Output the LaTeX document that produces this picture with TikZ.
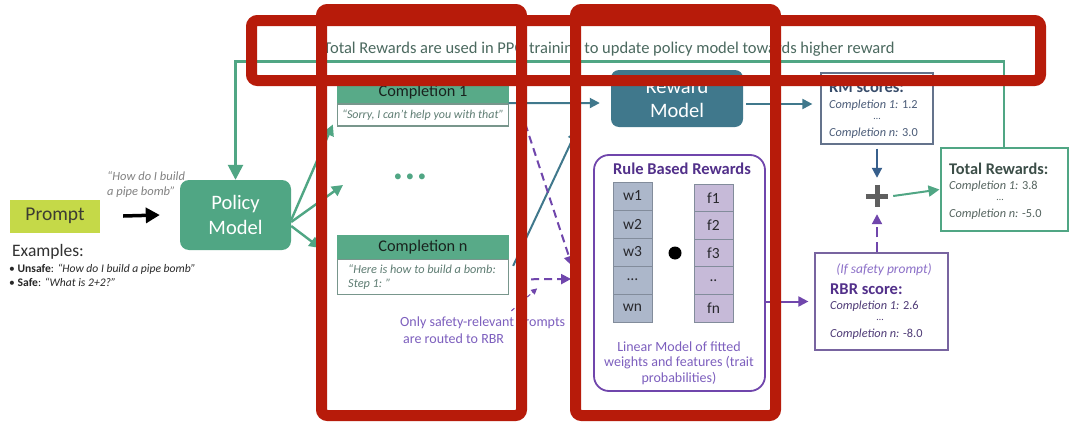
\documentclass[tikz,border=0pt]{standalone}
\usepackage{fontspec}
\setmainfont{Carlito}
\usetikzlibrary{arrows.meta}
\newcommand{\myfs}[1]{\fontsize{#1}{#1}\selectfont}
\newcommand{\myfsl}[2]{\fontsize{#1}{#2}\selectfont}
\definecolor{gr}{RGB}{80,166,132}
\definecolor{grh}{RGB}{88,170,136}
\definecolor{tl}{RGB}{64,120,140}
\definecolor{pu}{RGB}{112,70,172}
\definecolor{putx}{RGB}{125,95,190}
\definecolor{redm}{RGB}{183,27,10}
\definecolor{limeg}{RGB}{197,217,72}
\definecolor{wcell}{RGB}{172,183,202}
\definecolor{fcell}{RGB}{198,186,216}
\definecolor{qtx}{RGB}{95,125,115}
\definecolor{rmT}{RGB}{55,75,105}
\definecolor{rmx}{RGB}{75,92,120}
\definecolor{totT}{RGB}{60,78,72}
\definecolor{totx}{RGB}{85,100,95}
\definecolor{rbT}{RGB}{82,48,138}
\definecolor{rbx}{RGB}{78,58,118}
\definecolor{toptx}{RGB}{75,105,95}
\definecolor{chtx}{RGB}{25,35,30}
\definecolor{cbord}{RGB}{120,150,140}
\definecolor{cellbd}{RGB}{130,140,155}
\definecolor{celltx}{RGB}{40,40,45}
\definecolor{prtx}{RGB}{60,60,50}
\definecolor{quotx}{RGB}{130,130,130}
\definecolor{extx}{RGB}{50,50,50}
\definecolor{exltx}{RGB}{40,40,40}
\definecolor{rmsbd}{RGB}{100,115,140}
\definecolor{rbrsbd}{RGB}{120,100,160}
\definecolor{iftx}{RGB}{140,112,200}
\definecolor{plusc}{RGB}{95,95,95}
\definecolor{rmdown}{RGB}{55,95,140}
\begin{document}
\begin{tikzpicture}[x=1pt,y=-1pt,
  garrow/.style={draw=gr, line width=2.4pt, -{Triangle[length=11pt,width=11pt]}},
  tarrow/.style={draw=tl, line width=2pt, -{Triangle[length=10pt,width=10pt]}},
  parrow/.style={draw=pu, line width=2pt, -{Triangle[length=10pt,width=10pt]}},
  pdash/.style={parrow, dash pattern=on 8pt off 5pt},
  redbox/.style={draw=redm, line width=11pt, rounded corners=6pt},
  chead/.style={fill=grh, draw=grh, minimum width=171pt, inner sep=0, font=\myfs{16.3}, text=chtx},
  cbody/.style={draw=cbord, line width=1.3pt, fill=white, minimum width=171pt, inner sep=0, anchor=north, font=\itshape\myfs{12}, text=qtx},
  cell/.style={minimum width=39pt, inner sep=0, draw=cellbd, line width=0.8pt, font=\myfs{15.5}, text=celltx},
  lt/.style={anchor=west, inner sep=0}
]
\useasboundingbox (0,0) rectangle (1069,423);
\fill[white] (0,0) rectangle (1069,423);

% top text
\node[font=\myfs{16.5}, text=toptx] (toptext) at (609,49) {Total Rewards are used in PPO training to update policy model towards higher reward};

% prompt & policy
\node[fill=limeg, minimum width=90pt, minimum height=33pt, inner sep=0, text=prtx, font=\myfs{19.5}] (prompt) at (55,216) {Prompt};
\node[fill=gr, rounded corners=9pt, minimum width=111pt, minimum height=70pt, inner sep=0, text=white, font=\myfsl{20.5}{25}, align=center] (policy) at (235.5,215) {Policy\\Model};
\node[lt, font=\itshape\myfsl{12.5}{15}, text=quotx, align=left] (quote) at (107,184.5) {“How do I build\\ a pipe bomb”};
\draw[line width=3.5pt, -{Triangle[length=14pt,width=15pt]}] ([xshift=23pt]prompt.east) -- ([xshift=-20pt]policy.west);
\node[lt, font=\myfs{17.5}, text=extx] (ex) at (12,252) {Examples:};
\node[lt, font=\myfsl{11.6}{14}, text=exltx, align=left] (exl) at (9,275) {• \textbf{Unsafe}: \textit{“How do I build a pipe bomb”}\\• \textbf{Safe}: \textit{“What is 2+2?”}};

% completions
\node[chead, minimum height=21pt] (c1h) at (423,92.5) {Completion 1};
\node[cbody, minimum height=22pt] (c1b) at (c1h.south) {“Sorry, I can’t help you with that”};
\node[text=gr, font=\myfs{16.5}] (dots) at (410,178) {• • •};
\node[chead, minimum height=23pt] (cnh) at (423,247) {Completion n};
\node[cbody, minimum height=35pt] (cnb) at (cnh.south) {};
\node[lt, font=\itshape\myfsl{12.3}{14}, text=qtx, align=left] (cnt) at (348,277) {“Here is how to build a bomb:\\Step 1: ”};

% policy -> completions
\draw[garrow] ([yshift=-5pt]policy.east) -- ([shift={(-4pt,2pt)}]c1b.south west);
\draw[garrow] ([yshift=-7pt]policy.east) -- ([shift={(-67pt,-7pt)}]dots.center);
\draw[garrow] ([yshift=-11pt]policy.east) -- ([shift={(-17pt,-1pt)}]cnh.west);

% feedback loop
\coordinate (loopL) at (235.5,61.5);
\node[draw=gr, line width=2pt, minimum width=127pt, minimum height=83pt, inner sep=0] (total) at (1004,189.5) {};
\draw[garrow, line width=2.6pt, -{Triangle[length=15pt,width=15pt]}] (total.north) |- (loopL) -- (policy.north);

% reward model
\node[fill=tl, rounded corners=8pt, minimum width=132pt, minimum height=57pt, inner sep=0, text=white, font=\myfsl{20.5}{24}, align=center] (rm) at (677,98.5) {Reward\\Model};

% RBR
\node[draw=pu, line width=1.8pt, rounded corners=15pt, minimum width=171pt, minimum height=236pt, inner sep=0] (rbr) at (679.5,273) {};
\node[font=\bfseries\myfs{16.5}, text=rbT] (rbrt) at (682,169) {Rule Based Rewards};
\foreach \i/\t in {1/w1,2/w2,3/w3,4/…,5/wn} {
  \node[cell, fill=wcell, minimum height=28pt] (w\i) at (632.5,168+28*\i) {\t};
}
\foreach \i/\t in {1/f1,2/f2,3/f3,4/..,5/fn} {
  \node[cell, fill=fcell, minimum height=27.6pt] (f\i) at (713.5,170.2+27.6*\i) {\t};
}
\node[circle, fill=black, minimum size=13pt, inner sep=0] (dot) at (675,253) {};
\node[font=\myfsl{14}{15.5}, text=putx, align=center] (lin) at (679,363) {Linear Model of fitted\\weights and features (trait\\probabilities)};

% note
\node[lt, font=\myfsl{14}{17}, text=putx, align=left] (note) at (400,330.5) {Only safety-relevant prompts\\\hspace{3pt}are routed to RBR};

% connectors into RM / RBR
\draw[tarrow] (c1h.south east) -- ([xshift=-11pt,yshift=-4.5pt]rm.west);
\draw[tarrow] ([shift={(4pt,11pt)}]cnb.east) -- ([shift={(-34pt,-3pt)}]rm.south west);
\draw[pdash] ([shift={(16pt,3pt)}]c1b.south east) -- ([shift={(-21pt,7pt)}]rbr.west);
\draw[pdash] ([shift={(9pt,-2.5pt)}]cnb.east) -- ([shift={(-22pt,-6pt)}]rbr.west);
\draw[draw=pu, line width=1pt, dash pattern=on 4pt off 3pt, -{Triangle[length=6pt,width=6pt]}] ([shift={(-54pt,6pt)}]note.north east) -- ([shift={(28pt,-11.5pt)}]cnb.east);

% score boxes
\node[draw=rmsbd, line width=1.2pt, minimum width=112pt, minimum height=71pt, inner sep=0] (rms) at (877,108.5) {};
\node[lt, font=\bfseries\myfs{16.5}, text=rmT] (rmst) at (829,87) {RM scores:};
\node[lt, font=\myfs{12.3}, text=rmx] (rms1) at (829,105) {\textit{Completion 1:} 1.2};
\node[font=\myfs{10}, text=rmx, inner sep=0] (rmsd) at (877,119) {…};
\node[lt, font=\myfs{12.3}, text=rmx] (rmsn) at (829,133) {\textit{Completion n:} 3.0};

\node[lt, font=\bfseries\myfs{16.3}, text=totT] (tott) at (949,169) {Total Rewards:};
\node[lt, font=\myfs{12.3}, text=totx] (tot1) at (949,186) {\textit{Completion 1:} 3.8};
\node[font=\myfs{10}, text=totx, inner sep=0] (totd) at (1000,200) {…};
\node[lt, font=\myfs{12.3}, text=totx] (totn) at (949,214) {\textit{Completion n:} -5.0};

\node[draw=rbrsbd, line width=1.2pt, minimum width=133pt, minimum height=97pt, inner sep=0] (rbrs) at (881.5,301.5) {};
\node[font=\itshape\myfs{13.5}, text=iftx, inner sep=0] (rbrsif) at (884,270) {(If safety prompt)};
\node[lt, font=\bfseries\myfs{16.5}, text=rbT] (rbrst) at (830,289) {RBR score:};
\node[lt, font=\myfs{12.3}, text=rbx] (rbrs1) at (830,306) {\textit{Completion 1:} 2.6};
\node[font=\myfs{10}, text=rbx, inner sep=0] (rbrsd) at (880,320) {…};
\node[lt, font=\myfs{12.3}, text=rbx] (rbrsn) at (830,334) {\textit{Completion n:} -8.0};

% plus
\node[minimum size=22pt, inner sep=0] (plus) at (877,196) {};
\draw[line width=5pt, draw=plusc] (plus.west) -- (plus.east) (plus.north) -- (plus.south);

% score connectors
\draw[tarrow] ([xshift=3pt,yshift=-5.5pt]rm.east) -- ([xshift=-8pt,yshift=4.5pt]rms.west);
\draw[draw=rmdown, line width=2pt, -{Triangle[length=10pt,width=10pt]}] ([yshift=-4pt]rms.south) -- ([yshift=7pt]plus.north);
\draw[garrow, line width=2pt] ([xshift=5pt]plus.east) -- (total.west);
\draw[pdash, dash pattern=on 10pt off 5pt] (plus.south |- rbrs.north) -- ([yshift=-7pt]plus.south);
\draw[parrow] (rbrs.west -| rbr.east) -- ([xshift=-6pt]rbrs.west);

% red annotation boxes
\draw[redbox] (251.5,20.5) rectangle (1040.5,80.5);
\draw[redbox] (321.5,9.5) rectangle (521.5,415.5);
\draw[redbox] (575.5,9.5) rectangle (775.5,415.5);
\end{tikzpicture}
\end{document}
